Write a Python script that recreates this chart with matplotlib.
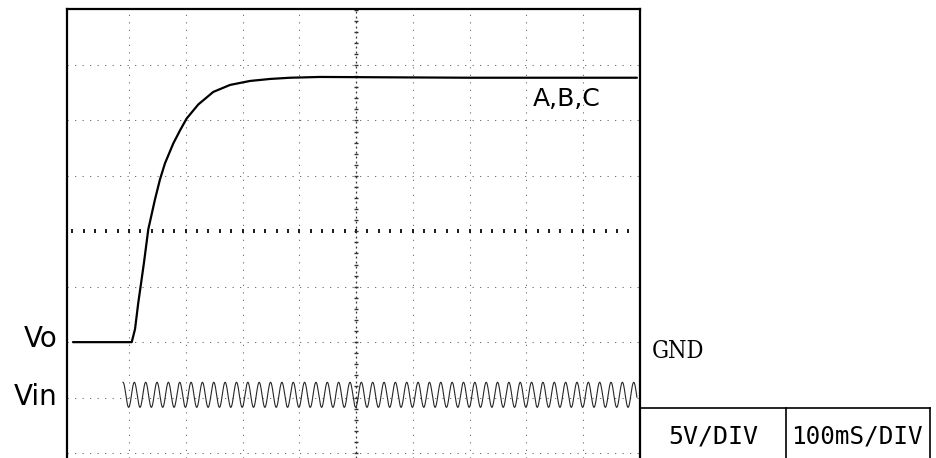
import numpy as np
import matplotlib
matplotlib.use("Agg")
import matplotlib.pyplot as plt
from matplotlib.lines import Line2D

# Output voltage Vo (start-up response), time in ms, volts above the Vo ground marker
vo_time_ms = [1.3, 101.8, 104.8, 110.6, 116.4, 120.6, 126.4, 134.0, 145.8, 154.6,
              163.4, 178.1, 189.9, 201.7, 222.1, 248.5, 278.0, 313.2, 348.5, 383.7,
              436.6, 700.0, 995.0]
vo_volts = [0.0, 0.0, 0.0, 1.17, 3.58, 5.07, 7.18, 10.18, 12.88, 14.68,
            16.13, 17.93, 19.1, 20.18, 21.44, 22.57, 23.2, 23.56, 23.74, 23.85,
            23.92, 23.85, 23.85]

# AC input Vin (50 Hz mains), drawn around its own trace offset
vin_freq_hz = 50.0
vin_start_ms = 89.4
vin_end_ms = 995.0
vin_offset_v = -4.75
vin_amplitude_v = 1.13

# Graticule: 10 x 8 divisions, 100 ms/div and 5 V/div
x_divs = [0, 100, 200, 300, 400, 500, 600, 700, 800, 900, 1000]
y_divs = [30, 25, 20, 15, 10, 5, 0, -5, -10]
x_center = 500
y_center = 10

W, H = 936, 458
fig = plt.figure(figsize=(W / 100, H / 100), dpi=100)
fig.patch.set_facecolor("white")

ax_left_px, ax_right_px, ax_top_px = 67, 639.75, 9
ax = fig.add_axes([ax_left_px / W, 0, (ax_right_px - ax_left_px) / W, 1 - ax_top_px / H])
px_per_ms = (ax_right_px - 72.25) / 1000.0
px_per_v = 11.1
ax.set_xlim(-(72.25 - ax_left_px) / px_per_ms, 1000)
ax.set_ylim(30 - (H - ax_top_px) / px_per_v, 30.05)
ax.set_xticks([])
ax.set_yticks([])
for side in ("left", "top", "right"):
    ax.spines[side].set_linewidth(1.6)
    ax.spines[side].set_color("black")
ax.spines["bottom"].set_visible(False)

grid_kw = dict(color="0.45", lw=0.75, linestyle=(0, (1.2, 6)), zorder=1)
for x in x_divs[1:-1]:
    if x != x_center:
        ax.axvline(x, **grid_kw)
for y in y_divs[1:]:
    if y != y_center:
        ax.axhline(y, **grid_kw)

# Centre axes with 0.2-division sub-ticks
ax.axvline(x_center, color="0.2", lw=0.9, linestyle=(0, (1.5, 2.5)), zorder=1)
sub_x = np.arange(0, 1000.1, 20)
ax.plot(sub_x, np.full_like(sub_x, y_center), linestyle="none", marker="|",
        ms=3.0, mew=1.4, color="0.1", zorder=1)
sub_y = np.arange(-10, 30.1, 1)
ax.plot(np.full_like(sub_y, x_center), sub_y, linestyle="none", marker="_",
        ms=3.0, mew=1.0, color="0.2", zorder=1)

# Vo trace
ax.plot(vo_time_ms, vo_volts, color="black", lw=1.6, solid_joinstyle="round",
        solid_capstyle="round", zorder=3)

# Vin trace
t_in = np.linspace(vin_start_ms, vin_end_ms, 4000)
v_in = vin_offset_v + vin_amplitude_v * np.cos(2 * np.pi * vin_freq_hz * (t_in - vin_start_ms) / 1000.0)
ax.plot(t_in, v_in, color="0.15", lw=0.8, zorder=3)


def fpos(x_px, y_px):
    return x_px / W, 1 - y_px / H


fig.text(*fpos(58, 347), "Vo", ha="right", va="baseline", fontsize=20, family="DejaVu Sans")
fig.text(*fpos(58, 405), "Vin", ha="right", va="baseline", fontsize=20, family="DejaVu Sans")
fig.text(*fpos(533, 106), "A,B,C", ha="left", va="baseline", fontsize=18, family="DejaVu Sans")
fig.text(*fpos(652, 358), "GND", ha="left", va="baseline", fontsize=17,
         family="DejaVu Serif", fontstretch="condensed")
fig.text(*fpos(713, 443), "5V/DIV", ha="center", va="baseline", fontsize=18,
         family="DejaVu Sans Mono")
fig.text(*fpos(857, 443), "100mS/DIV", ha="center", va="baseline", fontsize=17.5,
         family="DejaVu Sans Mono")

# Setting box at the lower right
box_lines = [((640, 408), (930, 408)), ((786, 408), (786, H)), ((930, 408), (930, H))]
for (x0, y0), (x1, y1) in box_lines:
    a = fpos(x0, y0)
    b = fpos(x1, y1)
    fig.add_artist(Line2D([a[0], b[0]], [a[1], b[1]], color="black", lw=1.2))

fig.savefig("out.png", dpi=100, facecolor="white")
